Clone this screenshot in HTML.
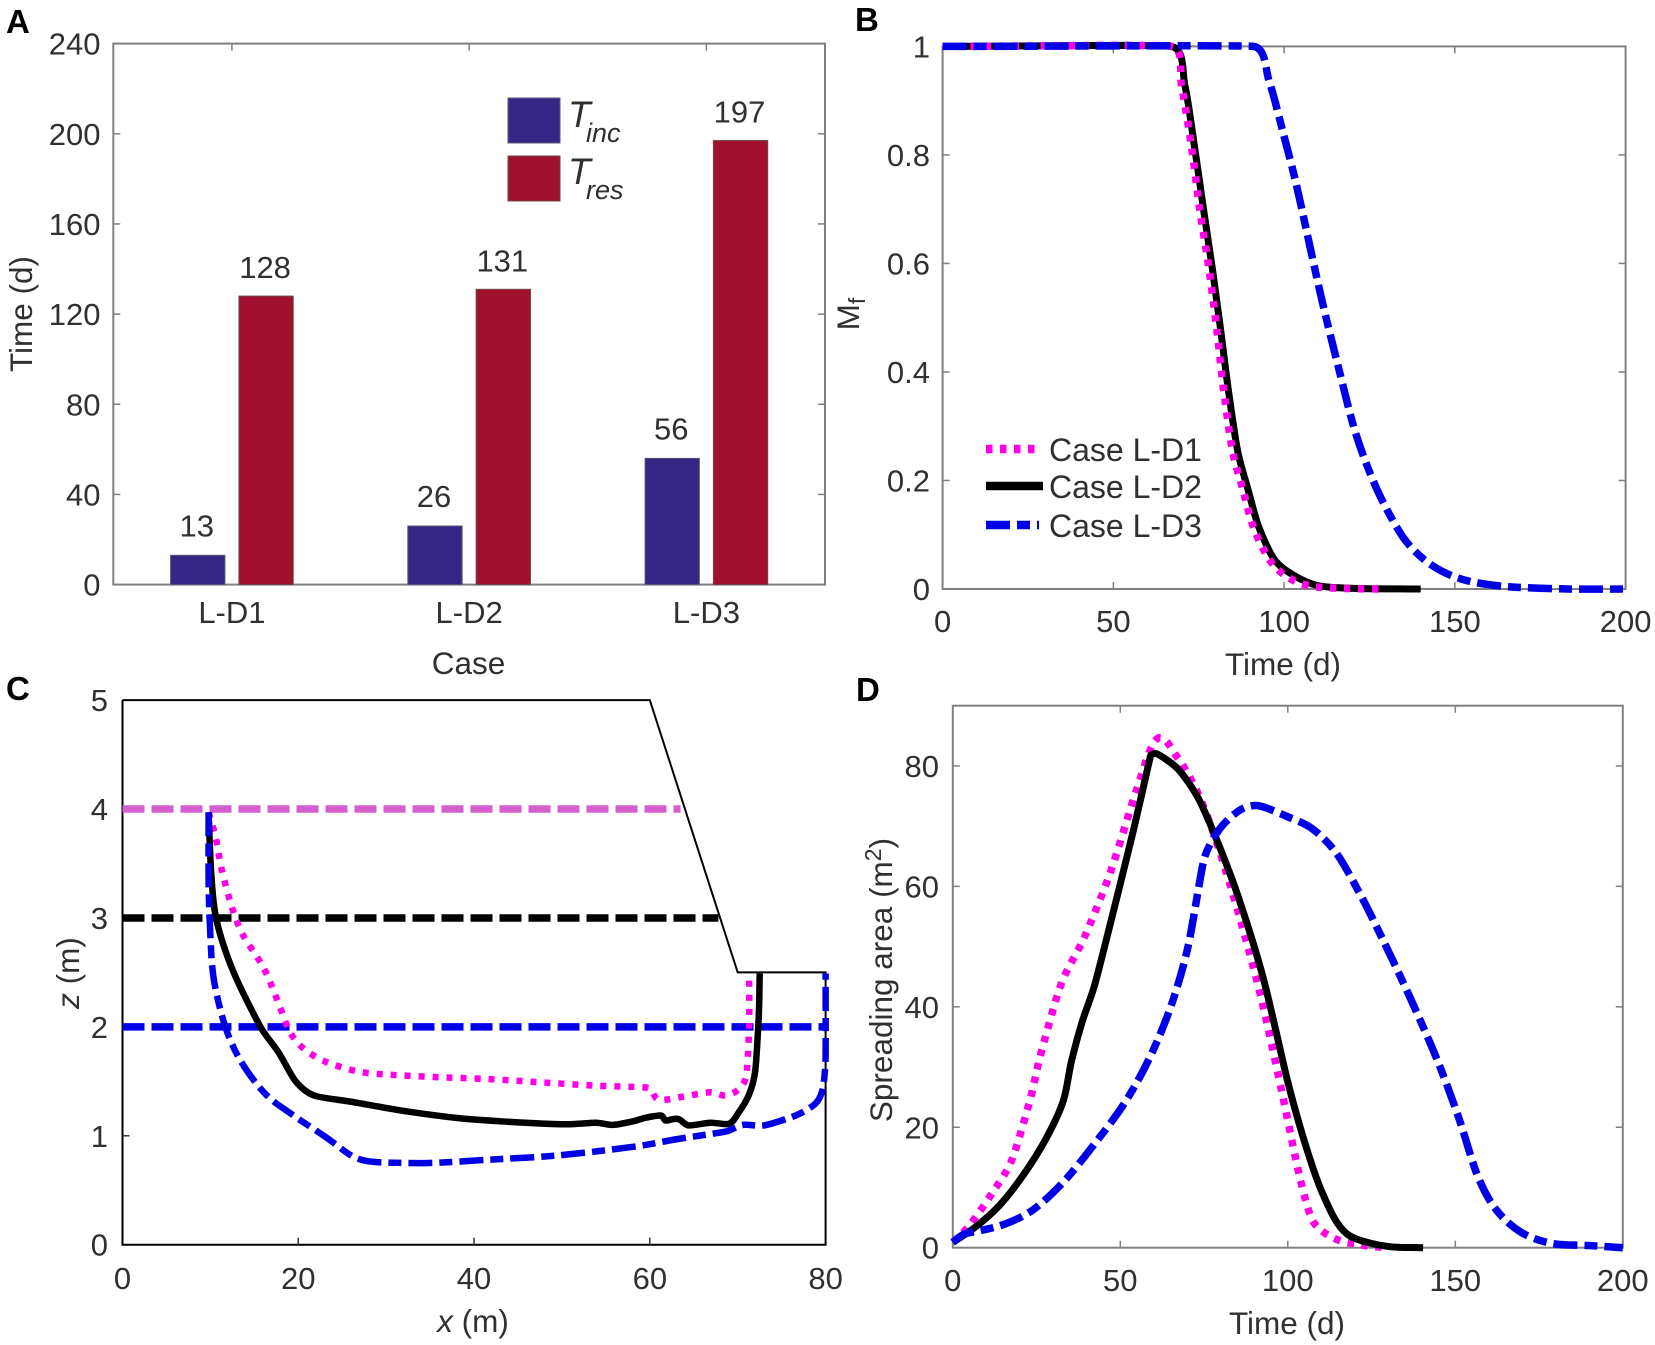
<!DOCTYPE html>
<html lang="en">
<head>
<meta charset="utf-8">
<title>Four-panel chart</title>
<style>
html,body{margin:0;padding:0;background:#fff;}
svg{display:block;}
text{font-family:"Liberation Sans",sans-serif;fill:#303030;font-size:31px;}
.panel-letter{font-weight:bold;font-size:33px;fill:#000;}
</style>
</head>
<body>
<svg id="figure" xmlns="http://www.w3.org/2000/svg" width="1655" height="1345" viewBox="0 0 1655 1345">
  <rect x="0" y="0" width="1655" height="1345" fill="#fff"/>
  <text class="panel-letter" x="6" y="33">A</text>
  <text class="panel-letter" x="855" y="31">B</text>
  <text class="panel-letter" x="6" y="700">C</text>
  <text class="panel-letter" x="856" y="701">D</text>

  <g id="panel-a"></g>
  <g id="panel-b"></g>
  <g id="panel-c"></g>
  <g id="panel-d"></g>

  <text transform="rotate(-90 32 314)" x="32" y="314" text-anchor="middle" style="font-size:31.5px">Time (d)</text>
  <text x="468.5" y="674" text-anchor="middle" style="font-size:31.5px">Case</text>
  <text transform="rotate(-90 859 314)" x="859" y="314" text-anchor="middle" style="font-size:31.5px">M<tspan style="font-size:23px" dy="6">f</tspan></text>
  <text x="1283" y="675" text-anchor="middle" style="font-size:31.5px">Time (d)</text>
  <text transform="rotate(-90 79 973)" x="79" y="973" text-anchor="middle" style="font-size:31.5px"><tspan font-style="italic">z</tspan> (m)</text>
  <text x="473" y="1332" text-anchor="middle" style="font-size:31.5px"><tspan font-style="italic">x</tspan> (m)</text>
  <text transform="rotate(-90 892 980)" x="892" y="980" text-anchor="middle" style="font-size:31.5px">Spreading area (m<tspan style="font-size:23px" dy="-11">2</tspan><tspan dy="11">)</tspan></text>
  <text x="1287" y="1334" text-anchor="middle" style="font-size:31.5px">Time (d)</text>

  <g>
    <rect x="508" y="98" width="52" height="45" fill="#352585" stroke="#5a5a7a" stroke-width="1"/>
    <rect x="508" y="156" width="52" height="45" fill="#a1102f" stroke="#6a4a4a" stroke-width="1"/>
    <text x="568" y="127" font-style="italic" style="font-size:37px">T<tspan x="586" y="142" style="font-size:27px">inc</tspan></text>
    <text x="568" y="184" font-style="italic" style="font-size:37px">T<tspan x="586" y="199" style="font-size:27px">res</tspan></text>
  </g>
</svg>

<script>
/* Panel A data */
const barCases = ['L-D1', 'L-D2', 'L-D3'];
const tincValues = [13, 26, 56];
const tresValues = [128, 131, 197];
const aYTicks = [0, 40, 80, 120, 160, 200, 240];

/* Panel B data */
const bXTicks = [0, 50, 100, 150, 200];
const bYTicks = [0, 0.2, 0.4, 0.6, 0.8, 1];
const bD1Time = [0, 67, 70, 72.9, 75.3, 78, 80.3, 82.3, 84.9, 88, 91, 95.7, 101, 108, 118, 129];
const bD1Mf = [1, 1, 0.926, 0.814, 0.7, 0.59, 0.478, 0.366, 0.254, 0.182, 0.114, 0.054, 0.022, 0.005, 0.001, 0];
const bD2Time = [0, 67, 71, 73.8, 76.4, 79, 81.4, 83.7, 86.4, 89.5, 92.6, 97.2, 102.6, 110, 121, 140];
const bD2Mf = [1, 1, 0.926, 0.814, 0.7, 0.59, 0.478, 0.366, 0.254, 0.182, 0.114, 0.054, 0.026, 0.006, 0.001, 0];
const bD3Time = [0, 91, 95.7, 99.5, 103.4, 107.2, 111, 115.7, 121, 127.3, 135, 142.7, 152, 164, 183, 200];
const bD3Mf = [1, 1, 0.934, 0.846, 0.75, 0.642, 0.534, 0.414, 0.286, 0.182, 0.094, 0.046, 0.018, 0.005, 0, 0];
const bLegendLabels = ['Case L-D1', 'Case L-D2', 'Case L-D3'];

/* Panel C data */
const cXTicks = [0, 20, 40, 60, 80];
const cYTicks = [0, 1, 2, 3, 4, 5];
const slopeX = [0, 60, 70, 80, 80, 0, 0];
const slopeZ = [5, 5, 2.5, 2.5, 0, 0, 5];
const waterLevelZ = [4, 3, 2];
const waterLevelEndX = [63.5, 67.8, 80];
const cD1X = [9.8, 10.6, 11.35, 12.6, 13.8, 16, 17.5, 19, 20.6, 23.1, 26.8, 30.5, 35.4, 41.6, 47.7, 53.9, 59.8, 61, 63.8, 66.9, 68.7, 70.3, 71, 71.3, 71.3];
const cD1Z = [3.97, 3.74, 3.42, 3.06, 2.83, 2.55, 2.27, 1.96, 1.8, 1.68, 1.59, 1.56, 1.54, 1.52, 1.49, 1.46, 1.44, 1.33, 1.36, 1.4, 1.37, 1.44, 1.56, 2, 2.49];
const cD2X = [9.8, 10.1, 10.7, 12.6, 15.7, 17.8, 19.7, 21.8, 26.2, 32.3, 38.5, 44.7, 50.2, 53.9, 55.8, 58.2, 59.5, 61.3, 61.8, 63.2, 64.4, 66.9, 69, 70, 71.3, 72, 72.4, 72.5];
const cD2Z = [3.97, 3.4, 2.98, 2.51, 2, 1.76, 1.5, 1.37, 1.31, 1.225, 1.16, 1.125, 1.105, 1.12, 1.1, 1.135, 1.165, 1.185, 1.14, 1.155, 1.095, 1.12, 1.11, 1.2, 1.38, 1.6, 2.11, 2.49];
const cD3X = [9.8, 9.8, 10, 10.4, 11.7, 13.5, 16.3, 19.4, 23.1, 26.2, 28.6, 34.8, 41.6, 49.6, 58.2, 63.2, 68.7, 70.6, 73, 76.7, 78.9, 79.7, 80, 80];
const cD3Z = [3.97, 3.3, 2.83, 2.43, 2, 1.68, 1.38, 1.19, 0.99, 0.81, 0.76, 0.75, 0.78, 0.82, 0.9, 0.97, 1.04, 1.1, 1.095, 1.19, 1.3, 1.44, 1.72, 2.49];

/* Panel D data */
const dXTicks = [0, 50, 100, 150, 200];
const dYTicks = [0, 20, 40, 60, 80];
const dD1Time = [0, 5, 11.3, 17.5, 23, 26, 32.3, 39.3, 47, 54.8, 61, 67.2, 73.4, 79.6, 85.8, 92, 98.2, 103.6, 107.5, 113.7, 121.5, 129.2];
const dD1Area = [0.9, 3.7, 8.7, 14.4, 24.4, 31.6, 43.7, 51.6, 62.3, 75.9, 84.5, 81.3, 75.2, 65.9, 54.5, 41.6, 25.9, 11.6, 4.4, 1.6, 0.5, 0];
const dD2Time = [0, 6.7, 14.4, 22.2, 28.4, 33, 35.4, 38.5, 42.4, 48.6, 54, 59, 61, 67.2, 73.4, 79.6, 85.8, 92.8, 99.8, 104.4, 109, 113.7, 117.6, 123, 130.8, 140.4];
const dD2Area = [0.9, 3.4, 7.3, 13, 18.7, 24.4, 30.9, 37.3, 43.7, 57.3, 69.5, 81.6, 82, 79.5, 74.5, 66.6, 57.3, 44.5, 28, 18.7, 10.9, 5.1, 2.3, 1, 0.15, 0];
const dD3Time = [0, 3.6, 14.4, 23.7, 33, 42.4, 51.7, 59.4, 65.6, 70.3, 75, 79.6, 85.8, 91.2, 99.8, 107.5, 114.5, 121.5, 129.2, 137, 144.8, 151, 156.4, 161.8, 169.5, 178.9, 189.7, 200];
const dD3Area = [0.9, 2.3, 3.7, 6.2, 10.9, 17.3, 24.4, 32.3, 40.9, 50.2, 64.5, 69.5, 72.7, 73.4, 71.6, 69.5, 65.5, 58.8, 50.2, 40.9, 30.9, 21.6, 12.3, 6.6, 2.6, 0.7, 0.36, 0];

const NS = 'http://www.w3.org/2000/svg';
const DOT = { stroke: '#ff00e6', width: 7.5, dash: '6.5 7.5' };
const SOLID = { stroke: '#000000', width: 7, dash: '' };
const DASH = { stroke: '#0000e6', width: 7.5, dash: '24 7 13 7' };
const DOT_C = { stroke: '#ff00e6', width: 6.5, dash: '6 8' };
const SOLID_C = { stroke: '#000000', width: 6.5, dash: '' };
const DASH_C = { stroke: '#0000e6', width: 6.5, dash: '24 7 13 7' };

function linear(d0, d1, r0, r1) {
  return function (v) { return r0 + (v - d0) / (d1 - d0) * (r1 - r0); };
}

function addRect(parent, name, x, y, w, h, fill, stroke) {
  const el = document.createElementNS(NS, 'rect');
  
  
  el.setAttribute('x', x);
  el.setAttribute('y', y);
  el.setAttribute('width', w);
  el.setAttribute('height', h);
  el.setAttribute('fill', fill);
  if (stroke) { el.setAttribute('stroke', stroke); }
  parent.appendChild(el);
  return el;
}

function addLine(parent, name, x1, y1, x2, y2, stroke, width, dash) {
  const el = document.createElementNS(NS, 'line');
  
  
  el.setAttribute('x1', x1);
  el.setAttribute('y1', y1);
  el.setAttribute('x2', x2);
  el.setAttribute('y2', y2);
  el.setAttribute('stroke', stroke);
  el.setAttribute('stroke-width', width);
  if (dash) { el.setAttribute('stroke-dasharray', dash); }
  parent.appendChild(el);
  return el;
}

function addText(parent, name, x, y, str, anchor, size) {
  const el = document.createElementNS(NS, 'text');
  
  
  el.setAttribute('x', x);
  el.setAttribute('y', y);
  el.setAttribute('text-anchor', anchor);
  if (size) { el.style.fontSize = size + 'px'; }
  el.textContent = str;
  parent.appendChild(el);
  return el;
}

/* Smooth path: control handles follow the neighbouring-point direction and
   are limited by the shorter adjacent segment, so long flat runs stay flat. */
function smoothPath(pts) {
  function dist(a, b) { return Math.hypot(b[0] - a[0], b[1] - a[1]); }
  function tangentAt(i) {
    const a = pts[Math.max(i - 1, 0)], b = pts[Math.min(i + 1, pts.length - 1)];
    const dx = b[0] - a[0], dy = b[1] - a[1];
    const len = Math.hypot(dx, dy) || 1;
    const prev = i > 0 ? dist(pts[i - 1], pts[i]) : Infinity;
    const next = i < pts.length - 1 ? dist(pts[i], pts[i + 1]) : Infinity;
    const h = Math.min(prev, next) / 3;
    return [dx / len * h, dy / len * h];
  }
  let d = 'M' + pts[0][0].toFixed(1) + ' ' + pts[0][1].toFixed(1);
  for (let i = 0; i < pts.length - 1; i++) {
    const p = pts[i], q = pts[i + 1];
    const u = tangentAt(i), v = tangentAt(i + 1);
    d += 'C' + (p[0] + u[0]).toFixed(1) + ' ' + (p[1] + u[1]).toFixed(1) + ' ' +
      (q[0] - v[0]).toFixed(1) + ' ' + (q[1] - v[1]).toFixed(1) + ' ' +
      q[0].toFixed(1) + ' ' + q[1].toFixed(1);
  }
  return d;
}

function addSeries(parent, name, xs, ys, xFn, yFn, style) {
  const el = document.createElementNS(NS, 'path');
  
  
  const pts = xs.map(function (v, i) { return [xFn(v), yFn(ys[i])]; });
  el.setAttribute('d', smoothPath(pts));
  el.setAttribute('fill', 'none');
  el.setAttribute('stroke', style.stroke);
  el.setAttribute('stroke-width', style.width);
  el.setAttribute('stroke-linejoin', 'round');
  if (style.dash) { el.setAttribute('stroke-dasharray', style.dash); }
  parent.appendChild(el);
  return el;
}

function addOutline(parent, name, xs, ys, xFn, yFn) {
  const el = document.createElementNS(NS, 'polyline');
  
  
  const pts = xs.map(function (v, i) { return xFn(v).toFixed(1) + ',' + yFn(ys[i]).toFixed(1); });
  el.setAttribute('points', pts.join(' '));
  el.setAttribute('fill', 'none');
  el.setAttribute('stroke', '#000');
  el.setAttribute('stroke-width', 2);
  parent.appendChild(el);
  return el;
}

function drawBox(g, prefix, L, R, T, B, color, width) {
  addRect(g, prefix + '-plot-frame', L, T, R - L, B - T, 'none', color).setAttribute('stroke-width', width);
}

function drawTicks(g, prefix, L, R, T, B, xTicks, yTicks, xFn, yFn, xBase, yEnd, color, bothSides) {
  xTicks.forEach(function (t) {
    const x = xFn(t);
    addLine(g, prefix + '-x-tick', x, B, x, B - 7, color, 1.5);
    if (bothSides) { addLine(g, prefix + '-x-tick-top', x, T, x, T + 7, color, 1.5); }
    addText(g, prefix + '-x-tick-label', x, xBase, String(t), 'middle');
  });
  yTicks.forEach(function (t) {
    const y = yFn(t);
    addLine(g, prefix + '-y-tick', L, y, L + 7, y, color, 1.5);
    if (bothSides) { addLine(g, prefix + '-y-tick-right', R, y, R - 7, y, color, 1.5); }
    addText(g, prefix + '-y-tick-label', yEnd, y + 11, String(t), 'end');
  });
}

/* Panel A */
(function () {
  const g = document.getElementById('panel-a');
  const L = 113.3, R = 825, T = 43.6, B = 584.6, color = '#808080';
  const xA = linear(0.5, 3.5, L, R);
  const yA = linear(0, 240, B, T);
  const barW = 0.229, off = 0.144;
  drawBox(g, 'a', L, R, T, B, color, 2);
  aYTicks.forEach(function (t) {
    const y = yA(t);
    addLine(g, 'a-y-tick', L, y, L + 7, y, color, 1.5);
    addLine(g, 'a-y-tick-right', R, y, R - 7, y, color, 1.5);
    addText(g, 'a-y-tick-label', 100.5, y + 11, String(t), 'end');
  });
  barCases.forEach(function (c, i) {
    const x = xA(i + 1);
    addLine(g, 'a-x-tick-top', x, T, x, T + 7, color, 1.5);
    addText(g, 'a-x-tick-label', x, 623, c, 'middle');
    const w = xA(barW) - xA(0);
    const xi = xA(i + 1 - off);
    const xr = xA(i + 1 + off);
    const bi = addRect(g, 'bar-tinc-' + c, xi - w / 2, yA(tincValues[i]), w, yA(0) - yA(tincValues[i]), '#352585', '#5a5a7a');
    bi.setAttribute('stroke-width', 1);
    const br = addRect(g, 'bar-tres-' + c, xr - w / 2, yA(tresValues[i]), w, yA(0) - yA(tresValues[i]), '#a1102f', '#6a4a4a');
    br.setAttribute('stroke-width', 1);
    addText(g, 'bar-value-tinc', xi - 1, yA(tincValues[i]) - 19, String(tincValues[i]), 'middle');
    addText(g, 'bar-value-tres', xr - 1, yA(tresValues[i]) - 18, String(tresValues[i]), 'middle');
  });
})();

/* Panel B */
(function () {
  const g = document.getElementById('panel-b');
  const L = 942.6, R = 1625.6, T = 46.4, B = 589;
  const xB = linear(0, 200, L, R);
  const yB = linear(0, 1, B, T);
  drawBox(g, 'b', L, R, T, B, '#808080', 2);
  drawTicks(g, 'b', L, R, T, B, bXTicks, bYTicks, xB, yB, 632, 930, '#808080', true);
  addSeries(g, 'series-b-case-l-d2', bD2Time, bD2Mf, xB, yB, SOLID);
  addSeries(g, 'series-b-case-l-d1', bD1Time, bD1Mf, xB, yB, DOT);
  addSeries(g, 'series-b-case-l-d3', bD3Time, bD3Mf, xB, yB, DASH);
  const styles = [DOT, SOLID, DASH];
  const rows = [449, 486, 525];
  const ends = [1039, 1043, 1039];
  bLegendLabels.forEach(function (label, i) {
    addLine(g, 'legend-line-' + label, 986, rows[i], ends[i], rows[i], styles[i].stroke, 8.5, styles[i].dash);
    addText(g, 'legend-label-' + label, 1049, rows[i] + 12, label, 'start', 32);
  });
})();

/* Panel C */
(function () {
  const g = document.getElementById('panel-c');
  const L = 122.5, R = 825.6, T = 700.1, B = 1244.7;
  const xC = linear(0, 80, L, R);
  const yC = linear(0, 5, B, T);
  addOutline(g, 'slope-outline', slopeX, slopeZ, xC, yC);
  cXTicks.slice(1, 4).forEach(function (t) {
    addLine(g, 'c-x-tick', xC(t), B, xC(t), B - 7, '#333', 1.5);
  });
  cXTicks.forEach(function (t) {
    addText(g, 'c-x-tick-label', xC(t), 1289, String(t), 'middle');
  });
  cYTicks.forEach(function (t) {
    if (t > 0 && t < 5) { addLine(g, 'c-y-tick', L, yC(t), L + 7, yC(t), '#333', 1.5); }
    addText(g, 'c-y-tick-label', 108, yC(t) + 11, String(t), 'end');
  });
  const levelColors = ['#d65fd0', '#000000', '#0000e6'];
  waterLevelZ.forEach(function (z, i) {
    addLine(g, 'initial-water-level-' + z, xC(0), yC(z), xC(waterLevelEndX[i]), yC(z), levelColors[i], 7.5, '22 7');
  });
  addSeries(g, 'series-c-case-l-d1', cD1X, cD1Z, xC, yC, DOT_C);
  addSeries(g, 'series-c-case-l-d2', cD2X, cD2Z, xC, yC, SOLID_C);
  addSeries(g, 'series-c-case-l-d3', cD3X, cD3Z, xC, yC, DASH_C);
})();

/* Panel D */
(function () {
  const g = document.getElementById('panel-d');
  const L = 952.8, R = 1622.8, T = 705.7, B = 1247.7;
  const xD = linear(0, 200, L, R);
  const yD = linear(0, 90, B, T);
  drawBox(g, 'd', L, R, T, B, '#808080', 2);
  drawTicks(g, 'd', L, R, T, B, dXTicks, dYTicks, xD, yD, 1291, 939, '#808080', true);
  addSeries(g, 'series-d-case-l-d1', dD1Time, dD1Area, xD, yD, DOT);
  addSeries(g, 'series-d-case-l-d2', dD2Time, dD2Area, xD, yD, SOLID);
  addSeries(g, 'series-d-case-l-d3', dD3Time, dD3Area, xD, yD, DASH);
})();
</script>
</body>
</html>
